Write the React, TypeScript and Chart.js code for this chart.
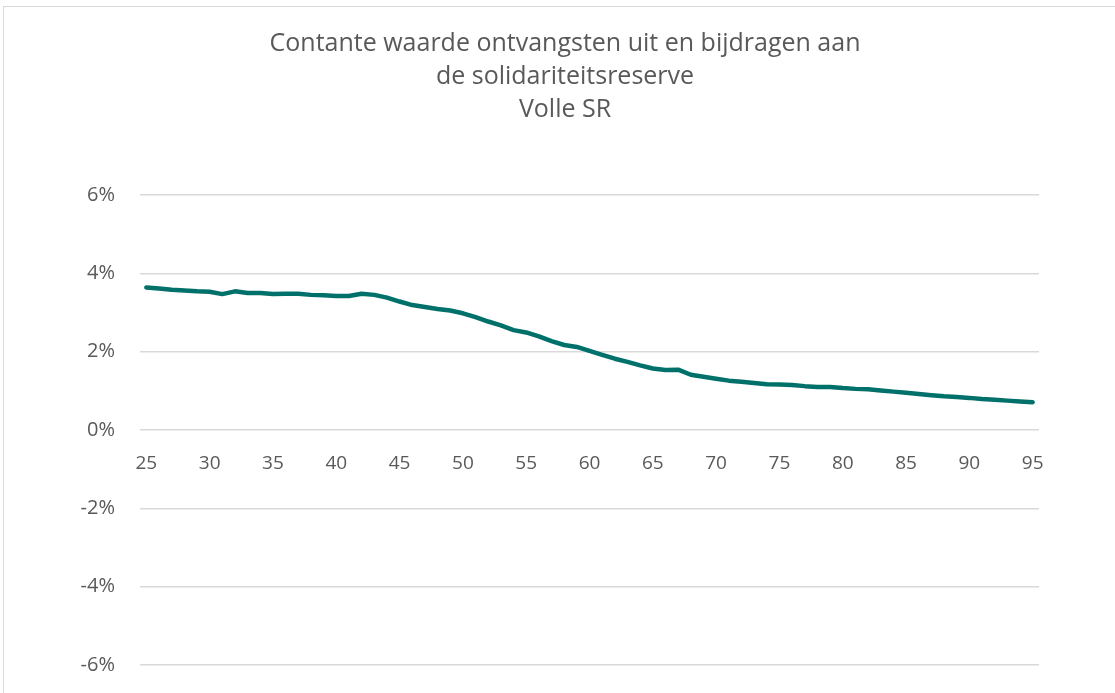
import React, { useEffect, useRef } from "react";
import { Chart, registerables } from "chart.js";

Chart.register(...registerables);

const TITLE_LINES = [
  "Contante waarde ontvangsten uit en bijdragen aan",
  "de solidariteitsreserve",
  "Volle SR",
];

const AGES = [
  25, 26, 27, 28, 29, 30, 31, 32, 33, 34, 35, 36, 37, 38, 39, 40, 41, 42, 43, 44,
  45, 46, 47, 48, 49, 50, 51, 52, 53, 54, 55, 56, 57, 58, 59, 60, 61, 62, 63, 64,
  65, 66, 67, 68, 69, 70, 71, 72, 73, 74, 75, 76, 77, 78, 79, 80, 81, 82, 83, 84,
  85, 86, 87, 88, 89, 90, 91, 92, 93, 94, 95,
];

const VALUES = [
  3.64, 3.61, 3.58, 3.56, 3.54, 3.53, 3.47, 3.54, 3.5, 3.5, 3.47, 3.48, 3.48, 3.45, 3.44, 3.42, 3.42, 3.48, 3.45, 3.38,
  3.28, 3.19, 3.14, 3.09, 3.05, 2.98, 2.88, 2.77, 2.67, 2.55, 2.49, 2.39, 2.27, 2.17, 2.12, 2.02, 1.92, 1.82, 1.74, 1.65,
  1.57, 1.53, 1.54, 1.41, 1.36, 1.31, 1.26, 1.23, 1.2, 1.17, 1.16, 1.15, 1.12, 1.1, 1.1, 1.07, 1.05, 1.04, 1.01, 0.98,
  0.95, 0.92, 0.89, 0.86, 0.84, 0.82, 0.79, 0.77, 0.75, 0.73, 0.71,
];

const Y_MIN = -6;
const Y_MAX = 6;
const Y_STEP = 2;
const X_LABEL_EVERY = 5;

const FONT = "'Open Sans', sans-serif";
const TEXT_COLOR = "#595959";

const titlePlugin = {
  id: "centeredTitle",
  afterDraw(chart: any) {
    const ctx = chart.ctx;
    ctx.save();
    ctx.fillStyle = TEXT_COLOR;
    ctx.font = `25px ${FONT}`;
    ctx.textAlign = "center";
    ctx.textBaseline = "middle";
    TITLE_LINES.forEach((line, i) => {
      ctx.fillText(line, 565, 44 + i * 33);
    });
    ctx.restore();
  },
};

export default function App() {
  const ref = useRef<HTMLCanvasElement>(null);

  useEffect(() => {
    if (!ref.current) return;
    const chart = new Chart(ref.current, {
      type: "line",
      data: {
        labels: AGES.map(String),
        datasets: [
          {
            data: VALUES,
            borderColor: "#00706b",
            borderWidth: 4.5,
            pointRadius: 0,
            tension: 0,
            borderCapStyle: "round",
            borderJoinStyle: "round",
          },
        ],
      },
      options: {
        animation: false,
        responsive: false,
        layout: { padding: { top: 195, right: 76, bottom: 28, left: 0 } },
        plugins: {
          legend: { display: false },
          tooltip: { enabled: false },
          title: { display: false },
        },
        scales: {
          x: {
            type: "category",
            position: { y: 0 },
            offset: true,
            afterFit: (s: any) => {
              s.height = 0;
            },
            grid: { display: false, drawTicks: false },
            border: { display: false },
            ticks: {
              autoSkip: false,
              maxRotation: 0,
              padding: 22,
              color: TEXT_COLOR,
              font: { family: FONT, size: 19 },
              callback: (_v: any, i: number) =>
                (AGES[i] - AGES[0]) % X_LABEL_EVERY === 0 ? String(AGES[i]) : "",
            },
          },
          y: {
            min: Y_MIN,
            max: Y_MAX,
            afterFit: (s: any) => {
              s.width = 140;
              s.paddingTop = 0;
              s.paddingBottom = 0;
            },
            grid: { color: "#d9d9d9", lineWidth: 1.5, drawTicks: false },
            border: { display: false },
            ticks: {
              stepSize: Y_STEP,
              padding: 25,
              color: TEXT_COLOR,
              font: { family: FONT, size: 20 },
              callback: (v: any) => `${v}%`,
            },
          },
        },
      },
      plugins: [titlePlugin],
    });
    return () => chart.destroy();
  }, []);

  return (
    <div
      style={{
        position: "fixed",
        left: 0,
        top: 0,
        width: 1115,
        height: 693,
        overflow: "hidden",
        background: "#fff",
      }}
    >
      <canvas ref={ref} width={1115} height={693} style={{ display: "block" }} />
      <div
        style={{
          position: "absolute",
          left: 3,
          top: 6,
          width: 1300,
          height: 900,
          border: "1px solid #d9d9d9",
          pointerEvents: "none",
        }}
      />
    </div>
  );
}
